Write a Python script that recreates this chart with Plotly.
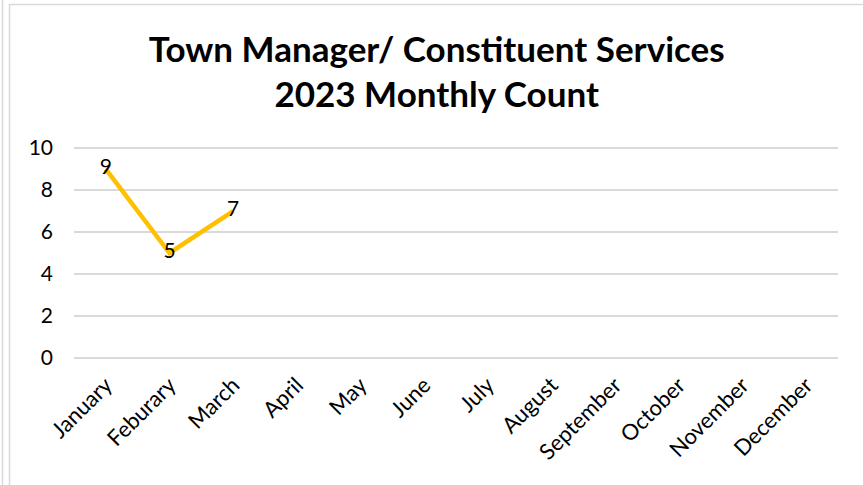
import plotly.graph_objects as go

months = ['January', 'Feburary', 'March', 'April', 'May', 'June', 'July',
          'August', 'September', 'October', 'November', 'December']
counts = [9, 5, 7]
y_ticks = [0, 2, 4, 6, 8, 10]

font = 'Lato, Calibri, sans-serif'

W, H = 863, 485
L, R, T, B = 74, 25, 147, 126
pw, ph = W - L - R, H - T - B


def px_x(x):
    # page pixel -> paper x
    return (x - L) / pw


def px_y(y):
    # page pixel -> paper y
    return (H - B - y) / ph


fig = go.Figure()

fig.add_trace(go.Scatter(
    x=months[:len(counts)], y=counts,
    mode='lines+text', text=[str(c) for c in counts],
    textposition='middle center',
    textfont=dict(size=21, color='black', family=font),
    line=dict(color='#FFC000', width=4.5),
    cliponaxis=False, showlegend=False, hoverinfo='skip'
))

frame = dict(color='#d9d9d9', width=1.5)

fig.update_layout(
    width=W, height=H,
    margin=dict(l=L, r=R, t=T, b=B),
    paper_bgcolor='white', plot_bgcolor='white',
    font=dict(family=font, color='black'),
    title=dict(
        text='<b>Town Manager/ Constituent Services<br>2023 Monthly Count</b>',
        x=0.506, xanchor='center', y=0.873, yanchor='middle',
        font=dict(size=35, color='black', family=font)
    ),
    xaxis=dict(
        categoryorder='array', categoryarray=months,
        tickmode='array', tickvals=months, ticktext=months,
        range=[-0.5, 11.5], tickangle=-45, automargin=False,
        showgrid=False, zeroline=False, showline=False,
        tickfont=dict(size=22, color='black'), ticklabelstandoff=8
    ),
    yaxis=dict(
        range=[-0.05, 10.05], tickvals=y_ticks, automargin=False,
        showgrid=True, gridcolor='#d9d9d9', gridwidth=1.5,
        zeroline=False, showline=False,
        tickfont=dict(size=21, color='black'), ticklabelstandoff=20
    ),
    shapes=[
        dict(type='line', xref='paper', yref='paper',
             x0=px_x(2.5), x1=px_x(2.5), y0=px_y(H + 5), y1=px_y(-5), line=frame),
        dict(type='rect', xref='paper', yref='paper',
             x0=px_x(9.5), x1=px_x(W + 10), y0=px_y(H + 10), y1=px_y(4.5), line=frame),
    ]
)

fig.write_html("out.html", config={'displayModeBar': False},
               post_script="document.body.style.margin='0';")
